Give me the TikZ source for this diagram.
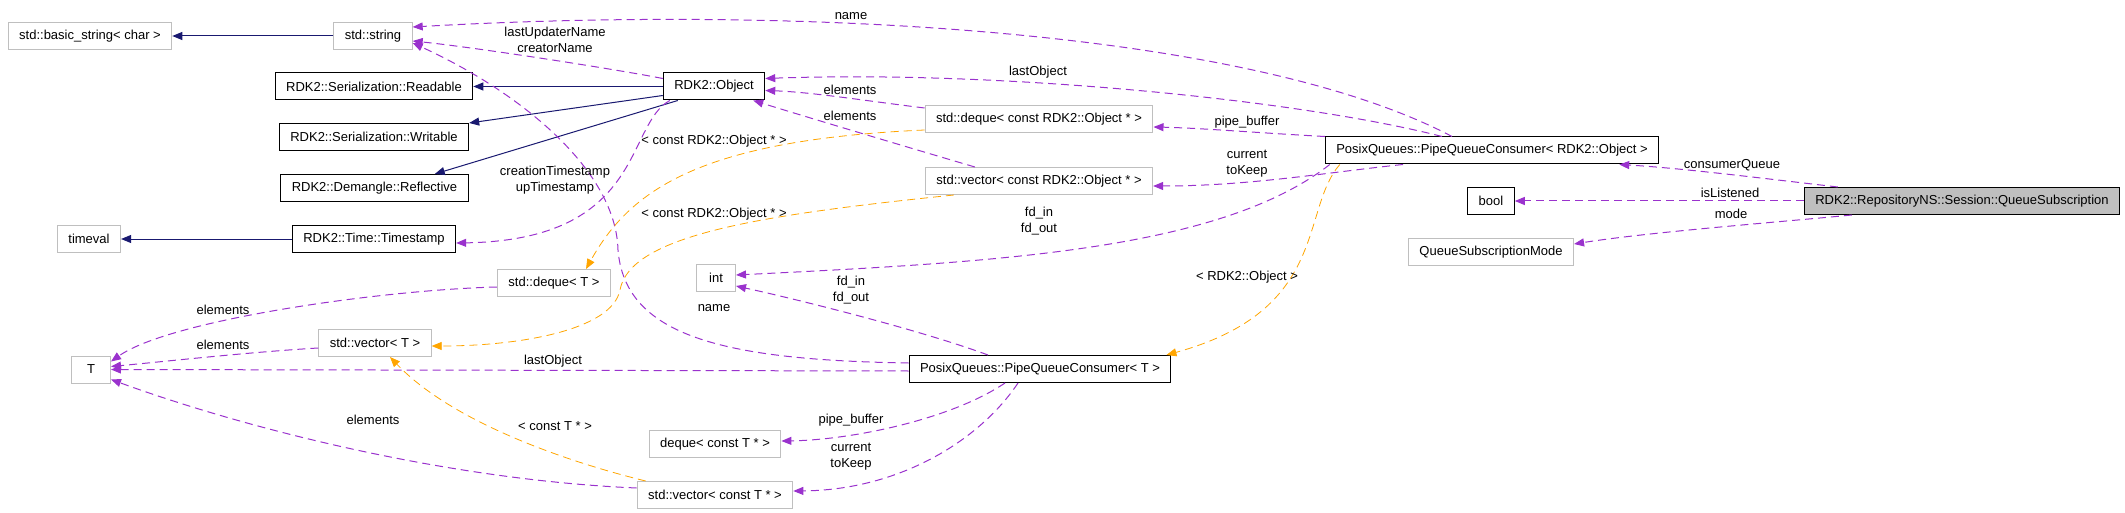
\documentclass[tikz,border=0pt]{standalone}
\usepackage{fontspec}
\setmainfont{Liberation Sans}
\usetikzlibrary{positioning,arrows.meta}
\definecolor{inhcol}{HTML}{191970}
\definecolor{usecol}{HTML}{9A32CD}
\definecolor{tplcol}{HTML}{FFA500}
\definecolor{extcol}{HTML}{BFBFBF}
\begin{document}
\begin{tikzpicture}[x=1pt, y=-1pt, font=\fontsize{13}{16}\selectfont,
  every node/.style={align=center},
  cls/.style={draw=black, line width=1pt, inner xsep=11pt, minimum height=27pt, minimum width=39pt},
  ext/.style={cls, draw=extcol},
  cur/.style={cls, fill=extcol},
  inherit/.style={draw=inhcol, line width=1pt, -{Triangle[length=10pt,width=8pt]}},
  member/.style={draw=usecol, line width=1pt, dash pattern=on 8pt off 5pt, -{Triangle[length=10pt,width=8pt]}},
  templ/.style={draw=tplcol, line width=0.8pt, dash pattern=on 8pt off 5pt, -{Triangle[length=10pt,width=8pt]}}]
  \useasboundingbox (0,0) rectangle (2125,513);
  \node[ext] (bstr) at (90,36) {std::basic\_string< char >};
  \node[ext] (str) at (373,36) {std::string};
  \node[cls] (readable) at (374,86.5) {RDK2::Serialization::Readable};
  \node[cls] (obj) at (714,86.5) {RDK2::Object};
  \node[cls] (writable) at (374,137) {RDK2::Serialization::Writable};
  \node[cls] (reflective) at (374.5,188) {RDK2::Demangle::Reflective};
  \node[ext] (timeval) at (89,239) {timeval};
  \node[cls] (tstamp) at (374,239) {RDK2::Time::Timestamp};
  \node[ext] (dequeT) at (554,283) {std::deque< T >};
  \node[ext] (intn) at (716,278) {int};
  \node[ext] (vecT) at (375,343) {std::vector< T >};
  \node[ext] (tn) at (91,369.5) {T};
  \node[ext] (dequeCT) at (715,444) {deque< const T * >};
  \node[ext] (vecCT) at (715,495) {std::vector< const T * >};
  \node[ext] (dequeCO) at (1039,119) {std::deque< const RDK2::Object * >};
  \node[ext] (vecCO) at (1039,181) {std::vector< const RDK2::Object * >};
  \node[cls] (pqcO) at (1492,150.5) {PosixQueues::PipeQueueConsumer< RDK2::Object >};
  \node[cls] (boolN) at (1491,201) {bool};
  \node[ext] (qsm) at (1491,252) {QueueSubscriptionMode};
  \node[cur] (qs) at (1962,201) {RDK2::RepositoryNS::Session::QueueSubscription};
  \node[cls] (pqcT) at (1040,369) {PosixQueues::PipeQueueConsumer< T >};

  \draw[inherit] (str) -- (bstr);
  \draw[inherit] (obj) -- (readable);
  \draw[inherit] ([yshift=-9pt]obj.west) -- (writable.north east);
  \draw[inherit] ([xshift=15pt]obj.south west) -- ([xshift=-34pt]reflective.north east);
  \draw[inherit] (tstamp) -- (timeval);

  \draw[member] ([yshift=8pt]obj.west) .. controls (620,70) and (480,48) .. ([yshift=-5pt]str.east);
  \draw[member] ([xshift=-40pt]pqcO.north) .. controls (1250,30) and (800,5) .. ([yshift=9pt]str.east);
  \draw[member] ([xshift=-50pt]pqcO.north) .. controls (1300,100) and (1000,70) .. ([yshift=8pt]obj.east);
  \draw[member] ([yshift=11pt]dequeCO.west) .. controls (860,100) and (810,92) .. ([yshift=-4pt]obj.east);
  \draw[member] ([xshift=50pt]vecCO.north west) .. controls (900,145) and (800,115) .. ([xshift=-12pt]obj.south east);
  \draw[member] (pqcO.north west) .. controls (1260,133) and (1200,128) .. ([yshift=-8pt]dequeCO.east);
  \draw[member] ([xshift=-89pt]pqcO.south) .. controls (1330,172) and (1250,186) .. ([yshift=-5pt]vecCO.east);
  \draw[member] ([xshift=5pt]pqcO.south west) .. controls (1220,250) and (1000,262) .. ([yshift=3pt]intn.east);
  \draw[member] ([xshift=7pt]obj.south west) .. controls (625,125) and (645,240) .. ([yshift=-4pt]tstamp.east);
  \draw[member] ([xshift=-52pt]pqcT.north) .. controls (920,330) and (800,300) .. ([yshift=-8pt]intn.east);
  \draw[member] ([yshift=6pt]pqcT.west) .. controls (720,360) and (625,335) .. (618,250)
    .. controls (616,170) and (520,92) .. ([yshift=-7pt]str.east);
  \draw[member] ([yshift=-2pt]pqcT.west) -- (tn.east);
  \draw[member] ([yshift=-4pt]dequeT.west) .. controls (380,290) and (170,320) .. ([yshift=8pt]tn.east);
  \draw[member] ([yshift=-5pt]vecT.west) .. controls (250,352) and (160,362) .. ([yshift=3pt]tn.east);
  \draw[member] ([yshift=7pt]vecCT.west) .. controls (450,480) and (250,430) .. ([yshift=-10pt]tn.east);
  \draw[member] ([xshift=-35pt]pqcT.south) .. controls (950,420) and (850,440) .. ([yshift=3pt]dequeCT.east);
  \draw[member] ([xshift=-22pt]pqcT.south) .. controls (980,440) and (900,490) .. ([yshift=4pt]vecCT.east);
  \draw[member] ([xshift=34pt]qs.north west) .. controls (1760,178) and (1680,168) .. ([xshift=-40pt]pqcO.south east);
  \draw[member] (qs) -- (boolN);
  \draw[member] ([xshift=48pt]qs.south west) .. controls (1780,222) and (1650,232) .. ([yshift=8pt]qsm.east);

  \draw[templ] ([yshift=-11pt]dequeCO.west) .. controls (700,140) and (630,190) .. ([xshift=-25pt]dequeT.north east);
  \draw[templ] ([xshift=29pt]vecCO.south west) .. controls (760,215) and (630,235) .. (620,290)
    .. controls (612,330) and (520,346) .. ([yshift=-3pt]vecT.east);
  \draw[templ] ([xshift=15pt]pqcO.south west) .. controls (1300,210) and (1330,310) .. ([xshift=-5pt]pqcT.north east);
  \draw[templ] ([xshift=9pt]vecCT.north west) .. controls (560,460) and (450,420) .. ([xshift=15pt]vecT.south);

  \node (lbCreator) at (555,40) {lastUpdaterName\\creatorName};
  \node (lbNameTop) at (851,16) {name};
  \node (lbLastObj) at (1038,72) {lastObject};
  \node (lbElemDq) at (850,90) {elements};
  \node (lbElemVc) at (850,116) {elements};
  \node (lbPipeO) at (1247,122) {pipe\_buffer};
  \node (lbCurO) at (1247,164) {current\\toKeep};
  \node (lbFdO) at (1039,221) {fd\_in\\fd\_out};
  \node (lbStamp) at (555,180) {creationTimestamp\\upTimestamp};
  \node (lbTplDq) at (714,141) {< const RDK2::Object * >};
  \node (lbTplVc) at (714,214) {< const RDK2::Object * >};
  \node (lbNameT) at (714,308) {name};
  \node (lbFdT) at (851,290) {fd\_in\\fd\_out};
  \node (lbTplPqc) at (1247,277) {< RDK2::Object >};
  \node (lbElemDqT) at (223,310) {elements};
  \node (lbElemVcT) at (223,345) {elements};
  \node (lbElemCT) at (373,420) {elements};
  \node (lbLastObjT) at (553,361) {lastObject};
  \node (lbTplCT) at (555,426) {< const T * >};
  \node (lbPipeT) at (851,420) {pipe\_buffer};
  \node (lbCurT) at (851,457) {current\\toKeep};
  \node (lbConsumer) at (1732,165) {consumerQueue};
  \node (lbListened) at (1730,193) {isListened};
  \node (lbMode) at (1731,214) {mode};
\end{tikzpicture}
\end{document}
